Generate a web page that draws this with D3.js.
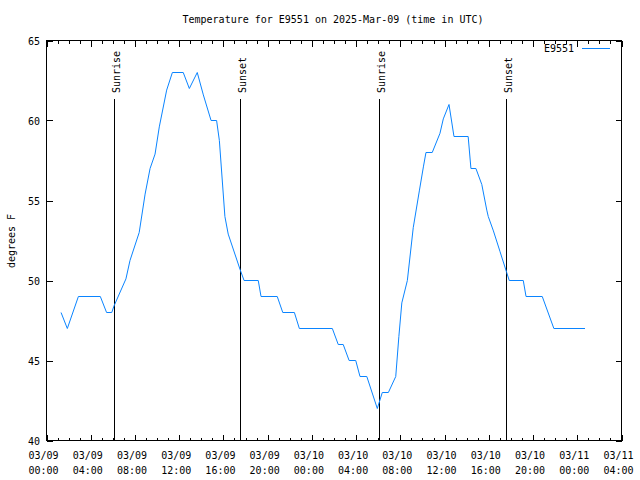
<!DOCTYPE html>
<html><head><meta charset="utf-8">
<script src="https://cdn.jsdelivr.net/npm/d3@7"></script>
<style>
html,body{margin:0;padding:0;background:#fff;}
svg{display:block;}
text{font-family:"DejaVu Sans Mono","Liberation Mono",monospace;font-size:10px;fill:#000;}
</style></head>
<body>
<svg id="chart" width="640" height="480"></svg>
<script>
const title = "Temperature for E9551 on 2025-Mar-09 (time in UTC)";
const seriesName = "E9551";
const yLabel = "degrees F";
const times = [
 "2025-03-09T01:19","2025-03-09T01:53","2025-03-09T02:53","2025-03-09T04:52","2025-03-09T05:26","2025-03-09T05:54",
 "2025-03-09T06:06","2025-03-09T07:11","2025-03-09T07:33","2025-03-09T08:23","2025-03-09T08:55","2025-03-09T09:22",
 "2025-03-09T09:49","2025-03-09T10:12","2025-03-09T10:52","2025-03-09T11:23","2025-03-09T12:22","2025-03-09T12:55",
 "2025-03-09T13:38","2025-03-09T14:11","2025-03-09T14:53","2025-03-09T15:23","2025-03-09T15:38","2025-03-09T16:08",
 "2025-03-09T16:26","2025-03-09T17:30","2025-03-09T17:52","2025-03-09T19:09","2025-03-09T19:24","2025-03-09T20:52",
 "2025-03-09T21:22","2025-03-09T22:25","2025-03-09T22:52","2025-03-10T01:51","2025-03-10T02:23","2025-03-10T02:50",
 "2025-03-10T03:22","2025-03-10T03:58","2025-03-10T04:21","2025-03-10T04:58","2025-03-10T05:55","2025-03-10T06:22",
 "2025-03-10T06:55","2025-03-10T07:35","2025-03-10T07:52","2025-03-10T08:08","2025-03-10T08:38","2025-03-10T09:10",
 "2025-03-10T09:43","2025-03-10T10:05","2025-03-10T10:19","2025-03-10T10:53","2025-03-10T11:35","2025-03-10T11:53",
 "2025-03-10T12:24","2025-03-10T12:51","2025-03-10T14:08","2025-03-10T14:23","2025-03-10T14:50","2025-03-10T15:22",
 "2025-03-10T15:49","2025-03-10T15:57","2025-03-10T16:25","2025-03-10T17:01","2025-03-10T17:37","2025-03-10T17:51",
 "2025-03-10T19:07","2025-03-10T19:22","2025-03-10T20:50","2025-03-10T21:53","2025-03-11T00:42"
];
const temps = [
 48,47,49,49,48,48,
 48.4,50.1,51.25,53,55.4,57,
 57.9,59.6,61.9,63,63,62,
 63,61.6,60,60,58.75,54,
 52.9,50.7,50,50,49,49,
 48,48,47,47,46,46,
 45,45,44,44,42,43,
 43,44,46.5,48.6,50,53.3,
 55.6,57.1,58,58,59.2,60.1,
 61,59,59,57,57,56,
 54.4,54,53.1,51.8,50.5,50,
 50,49,49,47,47
];
const eventTimes = ["2025-03-09T06:08","2025-03-09T17:32","2025-03-10T06:06","2025-03-10T17:35"];
const eventLabels = ["Sunrise","Sunset","Sunrise","Sunset"];
const xDomain = ["2025-03-09T00:00","2025-03-11T04:00"];
const yDomain = [40,65];
const yTicks = [40,45,50,55,60,65];

const parse = d3.utcParse("%Y-%m-%dT%H:%M");
const svg = d3.select("#chart");
const L = 46.5, R = 621.5, T = 40.5, B = 440.5;
const x = d3.scaleUtc().domain(xDomain.map(parse)).range([L, R]);
const y = d3.scaleLinear().domain(yDomain).range([B, T]);

// title
svg.append("text").attr("x", 333).attr("y", 23).attr("text-anchor", "middle").text(title);

// y label
svg.append("text").attr("transform", "translate(15,241) rotate(-90)").attr("text-anchor", "middle").text(yLabel);

// axes ticks
const g = svg.append("g").attr("shape-rendering", "crispEdges");
const majorX = d3.utcHour.every(4).range(x.domain()[0], d3.utcHour.offset(x.domain()[1], 1));
const minorX = d3.utcHour.every(1).range(x.domain()[0], d3.utcHour.offset(x.domain()[1], 1));
minorX.forEach(t => {
  const isMajor = t.getUTCHours() % 4 === 0;
  const len = isMajor ? 6 : 3;
  g.append("line").attr("x1", Math.round(x(t)) + 0.5).attr("x2", Math.round(x(t)) + 0.5).attr("y1", B).attr("y2", B - len).attr("stroke", "#000");
  g.append("line").attr("x1", Math.round(x(t)) + 0.5).attr("x2", Math.round(x(t)) + 0.5).attr("y1", T).attr("y2", T + len).attr("stroke", "#000");
});
const fmtD = d3.utcFormat("%m/%d"), fmtT = d3.utcFormat("%H:%M");
majorX.forEach(t => {
  const tx = svg.append("text").attr("text-anchor", "middle");
  tx.append("tspan").attr("x", x(t) - 3).attr("y", 459).text(fmtD(t));
  tx.append("tspan").attr("x", x(t) - 3).attr("y", 474).text(fmtT(t));
});
yTicks.forEach(v => {
  const yy = Math.round(y(v)) + 0.5;
  g.append("line").attr("x1", L).attr("x2", L + 6).attr("y1", yy).attr("y2", yy).attr("stroke", "#000");
  g.append("line").attr("x1", R).attr("x2", R - 6).attr("y1", yy).attr("y2", yy).attr("stroke", "#000");
  svg.append("text").attr("x", 40).attr("y", y(v) + 4).attr("text-anchor", "end").text(v);
});

// sunrise/sunset markers
eventTimes.forEach((s, i) => {
  const ex = Math.round(x(parse(s))) + 0.5;
  g.append("line").attr("x1", ex).attr("x2", ex).attr("y1", 99).attr("y2", B).attr("stroke", "#000");
  svg.append("text").attr("transform", `translate(${ex + 5},93) rotate(-90)`).attr("text-anchor", "start").text(eventLabels[i]);
});

// data line
const pts = times.map((t, i) => [parse(t), temps[i]]);
svg.append("path").datum(pts)
  .attr("fill", "none").attr("stroke", "#0a84ff").attr("stroke-width", 1)
  .attr("d", d3.line().x(d => x(d[0])).y(d => y(d[1])));

// frame
g.append("rect").attr("x", L).attr("y", T).attr("width", R - L).attr("height", B - T).attr("fill", "none").attr("stroke", "#000");

// legend
svg.append("text").attr("x", 574).attr("y", 52).attr("text-anchor", "end").text(seriesName);
svg.append("line").attr("x1", 582).attr("x2", 610).attr("y1", 48.5).attr("y2", 48.5).attr("stroke", "#0a84ff").attr("shape-rendering", "crispEdges");
</script>
</body></html>
